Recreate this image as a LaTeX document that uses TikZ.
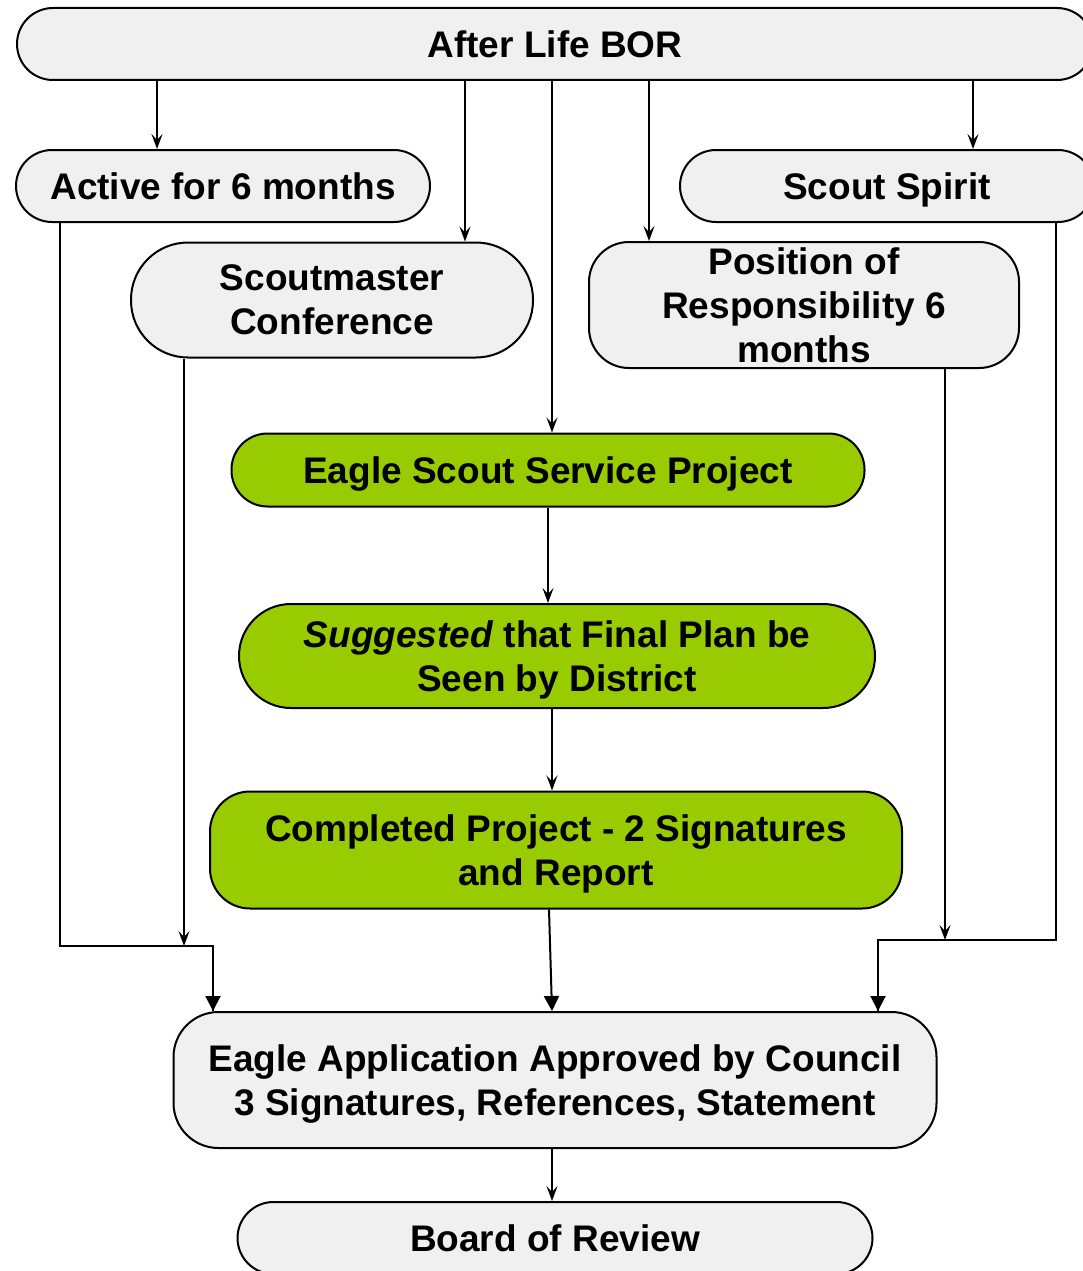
\documentclass[tikz,border=0pt]{standalone}
\usepackage{fontspec}
\setmainfont{Liberation Sans}
\usetikzlibrary{arrows.meta}

\definecolor{boxgrey}{HTML}{F0F0F0}
\definecolor{eaglegreen}{HTML}{99CC00}

\tikzset{
    stepnode/.style={draw=black, line width=2pt, fill=boxgrey, rectangle, inner sep=0pt,
        align=center, text depth=0pt, font=\fontsize{37}{44}\selectfont\bfseries},
    greennode/.style={stepnode, fill=eaglegreen},
    flow/.style={line width=1.9pt, -{Stealth[length=15pt,width=11pt,inset=6pt]}},
    merge/.style={line width=2pt, -{Triangle[length=15pt,width=15pt]}},
    plainline/.style={line width=2pt}
}

\begin{document}
\begin{tikzpicture}[x=1pt,y=-1pt]
    \useasboundingbox (0,0) rectangle (1083,1271);

    % top of the chart
    \node[stepnode, minimum width=1076pt, minimum height=72pt, rounded corners=36pt] (life) at (555,44) {After Life BOR};

    % requirements
    \node[stepnode, minimum width=414pt, minimum height=72pt, rounded corners=36pt] (active) at (223,186) {Active for 6 months};
    \node[stepnode, minimum width=414pt, minimum height=72pt, rounded corners=36pt] (spirit) at (887,186) {Scout Spirit};
    \node[stepnode, minimum width=402pt, minimum height=115pt, rounded corners=57pt] (smc) at (332,300) {Scoutmaster\\Conference};
    \node[stepnode, minimum width=430pt, minimum height=126pt, rounded corners=40pt] (por) at (804,305) {Position of\\Responsibility 6\\months};

    % project
    \node[greennode, minimum width=633pt, minimum height=73pt, rounded corners=36pt] (essp) at (548,470) {Eagle Scout Service Project};
    \node[greennode, minimum width=636pt, minimum height=104pt, rounded corners=52pt] (plan) at (557,656) {\textit{Suggested} that Final Plan be\\Seen by District};
    \node[greennode, minimum width=692pt, minimum height=117pt, rounded corners=40pt] (done) at (556,850) {Completed Project - 2 Signatures\\and Report};

    % approval
    \node[stepnode, minimum width=763pt, minimum height=136pt, rounded corners=45pt] (app) at (555,1080) {Eagle Application Approved by Council\\3 Signatures, References, Statement};
    \node[stepnode, minimum width=635pt, minimum height=72pt, rounded corners=36pt] (board) at (555,1238) {Board of Review};

    % junctions
    \coordinate (leftjoin) at (184,946);
    \coordinate (rightjoin) at (945,940);

    % arrows from the top
    \draw[flow] ([xshift=-66pt]active.north |- life.south) -- ([xshift=-66pt]active.north);
    \draw[flow] ([xshift=133pt]smc.north |- life.south) -- ([xshift=133pt]smc.north);
    \draw[flow] ([xshift=4pt]essp.north |- life.south) -- ([xshift=4pt]essp.north);
    \draw[flow] ([xshift=-155pt]por.north |- life.south) -- ([xshift=-155pt]por.north);
    \draw[flow] ([xshift=86pt]spirit.north |- life.south) -- ([xshift=86pt]spirit.north);

    % project chain
    \draw[flow] (essp.south) -- (essp.south |- plan.north);
    \draw[flow] ([xshift=-5pt]plan.south) -- ([xshift=-5pt]plan.south |- done.north);
    \draw[merge] ([xshift=-7pt]done.south) -- ([xshift=-4pt]done.south |- app.north);
    \draw[flow] ([xshift=-3pt]app.south) -- ([xshift=-3pt]app.south |- board.north);

    % left side
    \draw[plainline] ([xshift=-163pt]active.south) -- ([xshift=-163pt]active.south |- leftjoin) -| ([xshift=-342pt]app.north);
    \draw[merge] ([xshift=-342pt]app.north |- leftjoin) -- ([xshift=-342pt]app.north);
    \draw[flow] (leftjoin |- smc.south) -- (leftjoin);

    % right side
    \draw[plainline] ([xshift=169pt]spirit.south) -- ([xshift=169pt]spirit.south |- rightjoin) -| ([xshift=323pt]app.north);
    \draw[merge] ([xshift=323pt]app.north |- rightjoin) -- ([xshift=323pt]app.north);
    \draw[flow] (rightjoin |- por.south) -- (rightjoin);
\end{tikzpicture}
\end{document}
